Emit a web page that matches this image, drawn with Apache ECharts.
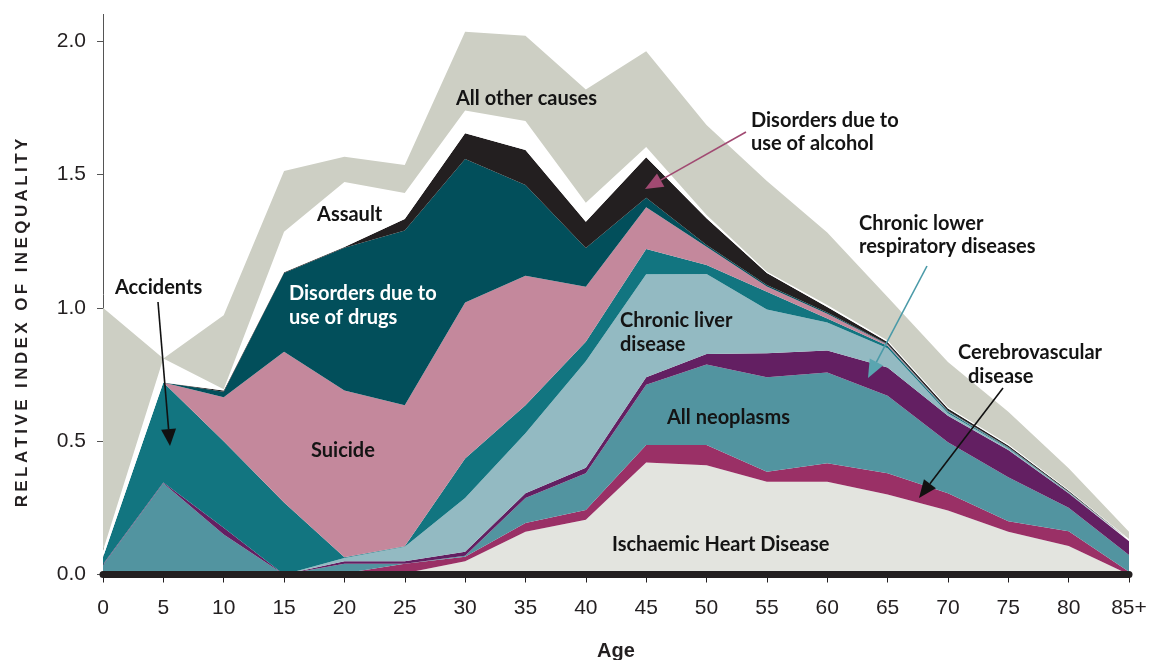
<!DOCTYPE html>
<html><head><meta charset="utf-8">
<script src="https://cdn.jsdelivr.net/npm/echarts@6/dist/echarts.min.js"></script>
<style>html,body{margin:0;padding:0;background:#fff}#c{width:1149px;height:660px}</style>
</head><body><div id="c"></div>
<script>
// ---- data ----
const ages = ['0','5','10','15','20','25','30','35','40','45','50','55','60','65','70','75','80','85+'];
const yTicks = [0, 0.5, 1.0, 1.5, 2.0];
const ischaemicHeart = [0,0,0,0,0,0.005,0.05,0.16,0.205,0.42,0.41,0.348,0.348,0.30,0.24,0.16,0.107,0];
const cerebrovascular = [0,0,0,0,0.005,0.035,0.017,0.033,0.037,0.066,0.076,0.037,0.069,0.08,0.065,0.04,0.055,0.01];
const neoplasms = [0.036,0.342,0.15,0,0.035,0,0.003,0.094,0.138,0.225,0.301,0.355,0.34,0.29,0.191,0.165,0.088,0.063];
const respiratory = [0.002,0.003,0.025,0,0.01,0.01,0.015,0.018,0.02,0.029,0.04,0.09,0.083,0.106,0.099,0.102,0.055,0.052];
const liver = [0,0,0,0,0.012,0.054,0.202,0.225,0.40,0.386,0.30,0.164,0.105,0.072,0.01,0.005,0.002,0.002];
const accidents = [0.027,0.375,0.325,0.27,0.003,0.002,0.148,0.105,0.073,0.094,0.033,0.066,0.015,0.01,0.005,0.003,0.001,0.001];
const suicide = [0,0,0.165,0.565,0.625,0.529,0.585,0.485,0.206,0.157,0.069,0.02,0.018,0.004,0.002,0.001,0.001,0];
const drugs = [0,0,0.02,0.295,0.535,0.655,0.538,0.34,0.145,0.036,0.006,0.005,0.004,0.002,0.002,0.002,0.001,0];
const alcohol = [0,0,0.005,0.003,0.003,0.043,0.096,0.132,0.099,0.151,0.101,0.045,0.021,0.008,0.008,0.006,0.004,0.002];
const assault = [0.025,0.09,0.005,0.152,0.244,0.097,0.086,0.108,0.071,0.039,0.012,0.005,0.007,0.005,0.005,0.004,0.003,0.003];
const otherCauses = [0.91,0,0.277,0.228,0.094,0.105,0.295,0.32,0.424,0.359,0.337,0.34,0.272,0.163,0.17,0.122,0.081,0.027];

const layers = [
  ['Ischaemic Heart Disease', ischaemicHeart, '#e3e4df'],
  ['Cerebrovascular disease', cerebrovascular, '#9a3066'],
  ['All neoplasms', neoplasms, '#5294a0'],
  ['Chronic lower respiratory diseases', respiratory, '#631f62'],
  ['Chronic liver disease', liver, '#93bac2'],
  ['Accidents', accidents, '#127580'],
  ['Suicide', suicide, '#c4889c'],
  ['Disorders due to use of drugs', drugs, '#024f5b'],
  ['Disorders due to use of alcohol', alcohol, '#231f20'],
  ['Assault', assault, '#ffffff'],
  ['All other causes', otherCauses, '#cdcfc4']
];

const chart = echarts.init(document.getElementById('c'), null, { width: 1149, height: 660 });
const LBL = 'bold 20px Lato, "Open Sans", sans-serif';

function txt(t, x, y, color) {
  return { type: 'text', z: 50, style: { text: t, x: x, y: y, font: LBL, fill: color || '#141414',
    align: 'left', verticalAlign: 'middle', textAlign: 'left', textVerticalAlign: 'middle' } };
}
function arrow(x1, y1, tx, ty, color, head, len, w) {
  const dx = tx - x1, dy = ty - y1, L = Math.sqrt(dx*dx + dy*dy);
  const ux = dx / L, uy = dy / L, px = -uy, py = ux;
  const bx = tx - ux * len, by = ty - uy * len;
  return [
    { type: 'line', z: 50, shape: { x1: x1, y1: y1, x2: bx, y2: by }, style: { stroke: color, lineWidth: 1.6 } },
    { type: 'polygon', z: 50, shape: { points: [[tx, ty], [bx + px * w / 2, by + py * w / 2], [bx - px * w / 2, by - py * w / 2]] },
      style: { fill: head, stroke: null } }
  ];
}

const sp = '\u2009';
const yName = 'RELATIVE INDEX OF INEQUALITY'.split('').join(sp);

const graphics = [
  { type: 'text', z: 50, x: 22, y: 323, rotation: Math.PI / 2,
    style: { text: yName, font: 'bold 17px "Liberation Sans", Arial, sans-serif', fill: '#231f20',
      align: 'center', verticalAlign: 'middle', textAlign: 'center', textVerticalAlign: 'middle' } },
  txt('All other causes', 456, 99),
  txt('Disorders due to', 751, 121),
  txt('use of alcohol', 751, 144),
  txt('Assault', 317, 215),
  txt('Accidents', 115, 288),
  txt('Disorders due to', 289, 294, '#ffffff'),
  txt('use of drugs', 289, 318, '#ffffff'),
  txt('Chronic lower', 859, 224),
  txt('respiratory diseases', 859, 247),
  txt('Chronic liver', 620, 321),
  txt('disease', 620, 345),
  txt('Cerebrovascular', 958, 353),
  txt('disease', 968, 377),
  txt('All neoplasms', 667, 418),
  txt('Suicide', 311, 451),
  txt('Ischaemic Heart Disease', 612, 545)
].concat(
  arrow(158, 302, 170, 446, '#111111', '#111111', 17, 15),
  arrow(746, 132, 645, 189, '#a14a72', '#a14a72', 18, 15),
  arrow(927, 266, 868, 378, '#4a9aa8', '#5aa5b0', 18, 15),
  arrow(1003, 388, 919, 498, '#111111', '#111111', 18, 15)
);

chart.setOption({
  animation: false,
  backgroundColor: '#ffffff',
  grid: { left: 103, right: 20, top: 14.4, bottom: 85.5, outerBoundsMode: 'none', containLabel: false },
  xAxis: {
    type: 'category', data: ages, boundaryGap: false, z: 10, offset: 1.5,
    axisLine: { lineStyle: { color: '#231f20', width: 7 } },
    axisTick: { show: true, length: 8, lineStyle: { color: '#231f20', width: 1 } },
    axisLabel: { margin: 22, fontSize: 21, fontFamily: '"Liberation Sans", Arial, sans-serif', color: '#231f20' },
    name: 'Age', nameLocation: 'middle', nameGap: 65,
    nameTextStyle: { fontSize: 20, fontWeight: 'bold', fontFamily: '"Liberation Sans", Arial, sans-serif', color: '#231f20' },
    splitLine: { show: false }
  },
  yAxis: {
    type: 'value', min: 0, max: 2.1, interval: 0.5,
    axisLine: { show: true, lineStyle: { color: '#555555', width: 1 } },
    axisTick: { show: true, length: 6, customValues: yTicks, lineStyle: { color: '#555555' } },
    axisLabel: { margin: 17, fontSize: 21, customValues: yTicks, fontFamily: '"Liberation Sans", Arial, sans-serif', color: '#231f20',
      formatter: v => v.toFixed(1) },
    splitLine: { show: false }
  },
  series: layers.map(([name, vals, color]) => ({
    name: name, type: 'line', stack: 'total', data: vals, symbol: 'none', silent: true,
    lineStyle: { width: 0 }, areaStyle: { color: color, opacity: 1 }, itemStyle: { color: color }
  })),
  graphic: graphics
});
</script>
</body></html>
